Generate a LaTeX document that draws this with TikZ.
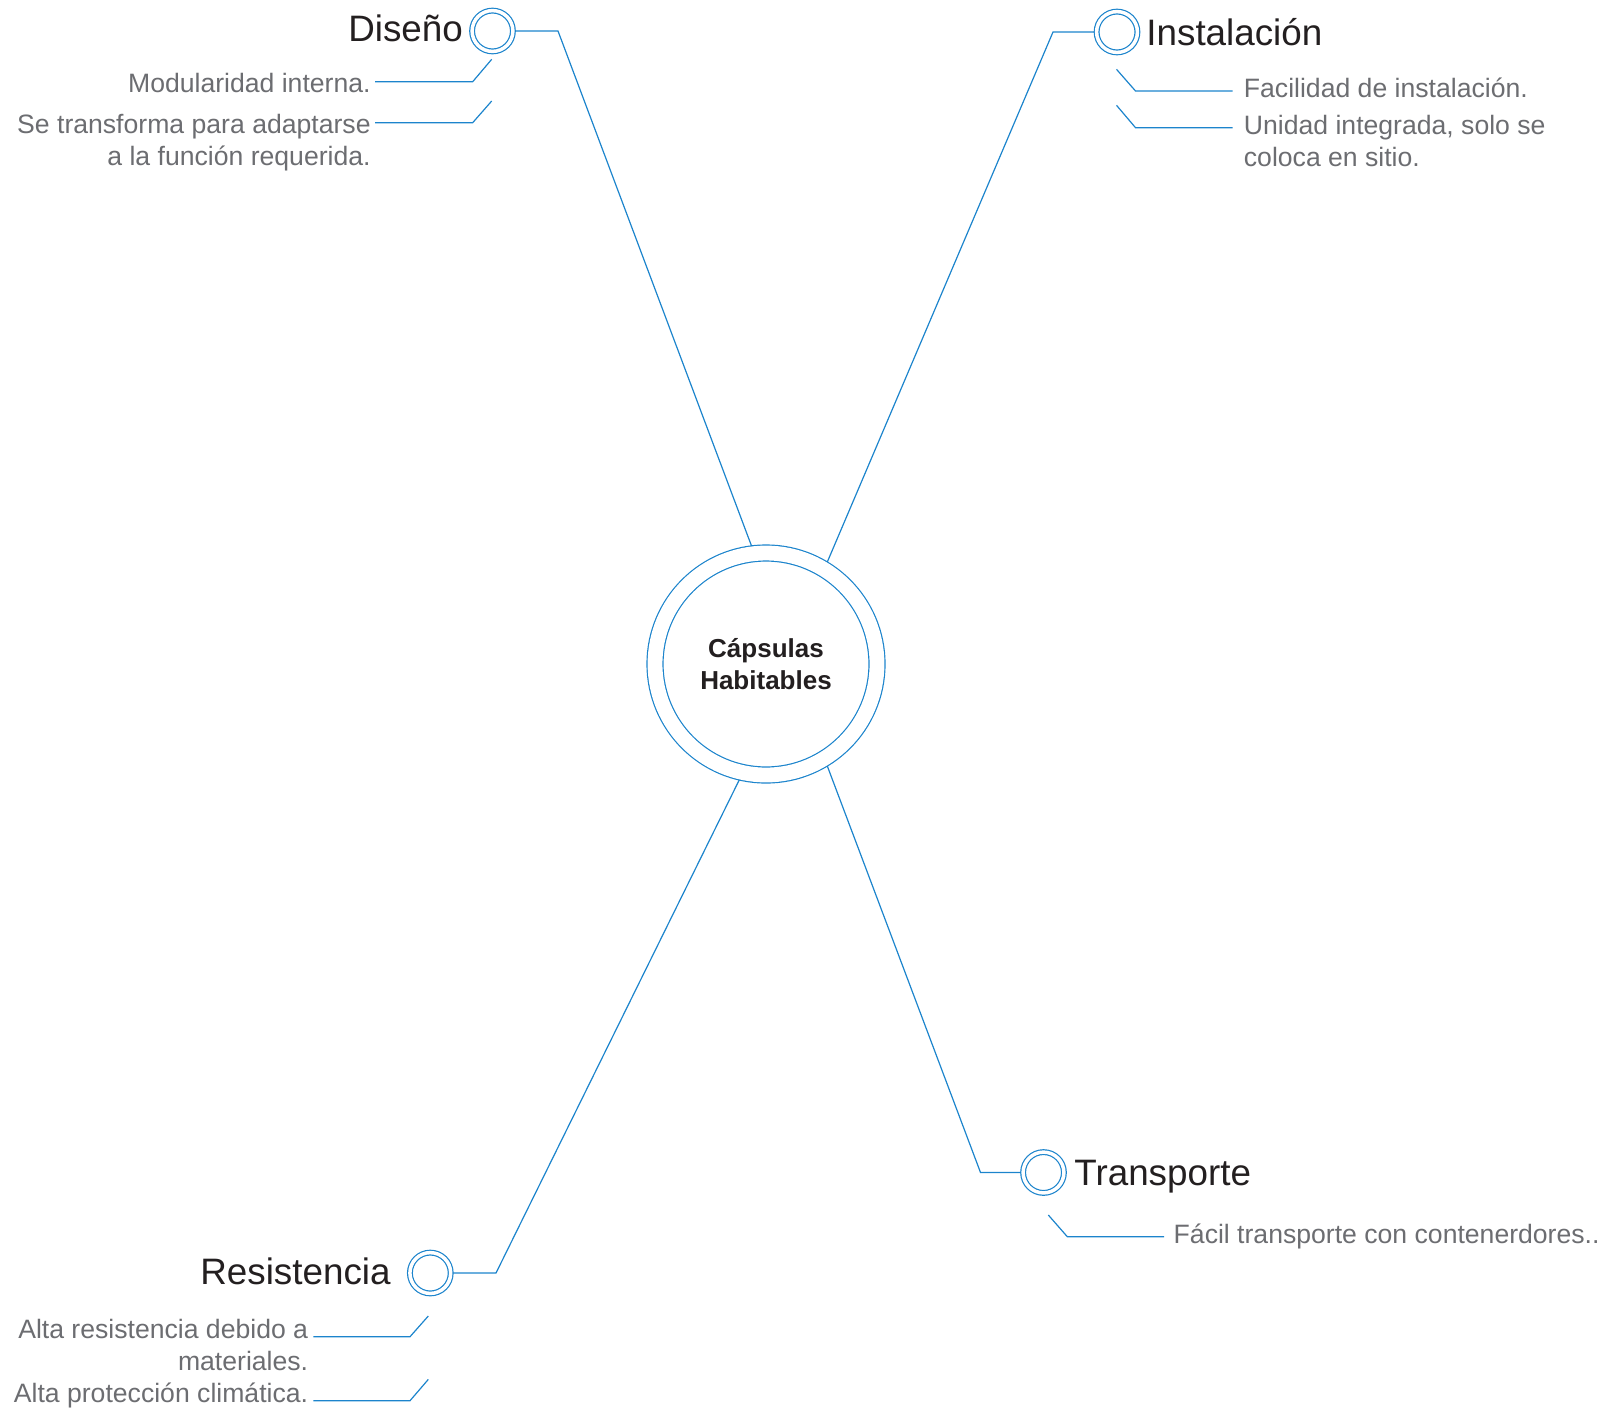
\documentclass[tikz,border=0pt]{standalone}
\usepackage{fontspec}
\setmainfont{Liberation Sans}
\definecolor{capblue}{RGB}{28,132,204}
\definecolor{headgray}{RGB}{35,31,32}
\definecolor{notegray}{RGB}{108,109,113}
\begin{document}
\begin{tikzpicture}[x=0.5pt, y=-0.5pt,
            link/.style  ={draw=capblue, line width=0.6pt},
            hub/.style   ={circle, draw=capblue, line width=0.6pt, double, double distance=7.4pt, minimum size=111pt, outer sep=4pt, align=center, text=headgray, font=\fontsize{13pt}{16pt}\selectfont\bfseries},
            bullet/.style={circle, draw=capblue, line width=0.6pt, double, double distance=1.75pt, minimum size=20.4pt, inner sep=0pt, outer sep=1.2pt},
            head/.style  ={inner sep=0pt, text=headgray, font=\fontsize{18.4pt}{22pt}\selectfont},
            note/.style  ={inner sep=0pt, text=notegray, font=\fontsize{13.3pt}{16pt}\selectfont}]
            \useasboundingbox (0,0) rectangle (1620,1408);
            \node[hub]    (hub)  at (766,664)     {Cápsulas\\Habitables};
            \node[bullet] (dise) at (492.5,31)    {};
            \node[bullet] (inst) at (1117,32)     {};
            \node[bullet] (tran) at (1043.5,1172.5) {};
            \node[bullet] (resi) at (430.3,1273)  {};
            \node[head, anchor=base east] (disel) at (463.3,41)    {Diseño};
            \node[head, anchor=base west] (instl) at (1146,45)     {Instalación};
            \node[head, anchor=base west] (tranl) at (1074,1185)   {Transporte};
            \node[head, anchor=base east] (resil) at (391,1284)    {Resistencia};
            \node[note, anchor=base east]              (modu)  at (371,92)       {Modularidad interna.};
            \node[note, anchor=base east, align=right] (trans) at (371,165.7)    {Se transforma para adaptarse\\a la función requerida.};
            \node[note, anchor=base west]              (faci)  at (1243.5,97.7)  {Facilidad de instalación.};
            \node[note, anchor=base west, align=left]  (unid)  at (1243.5,166)   {Unidad integrada, solo se\\coloca en sitio.};
            \node[note, anchor=base west]              (cont)  at (1173.3,1243)  {Fácil transporte con contenerdores..};
            \node[note, anchor=base east, align=right] (alta)  at (308.5,1370.3) {Alta resistencia debido a\\materiales.};
            \node[note, anchor=base east]              (prot)  at (308.5,1402)   {Alta protección climática.};
            \draw[link] (dise)      -- (558,31)       -- (hub.97.5);
            \draw[link] (hub.59.2)  -- (1053,32)      -- (inst);
            \draw[link] (hub.-59.2) -- (980.5,1172.5) -- (tran);
            \draw[link] (hub.257.5) -- (496,1273)     -- (resi);
            \draw[link] (modu.base east)  ++(4,-10.3)   -- ++(97.7,0)  -- ++(19,-22.4);
            \draw[link] (trans.base east) ++(4,-43)     -- ++(97.7,0)  -- ++(19,-21.7);
            \draw[link] (faci.base west)  ++(-11,-6.7)  -- ++(-97,0)   -- ++(-19,-21.7);
            \draw[link] (unid.base west)  ++(-11,-38.3) -- ++(-97,0)   -- ++(-19,-22.4);
            \draw[link] (cont.base west)  ++(-9.3,-6.3) -- ++(-96.7,0) -- ++(-19,-21.7);
            \draw[link] (alta.base east)  ++(4.8,-33.6) -- ++(96.7,0)  -- ++(18.3,-20.7);
            \draw[link] (prot.base east)  ++(4.8,-1.3)  -- ++(96.7,0)  -- ++(18.3,-21.3);
\end{tikzpicture}
\end{document}
